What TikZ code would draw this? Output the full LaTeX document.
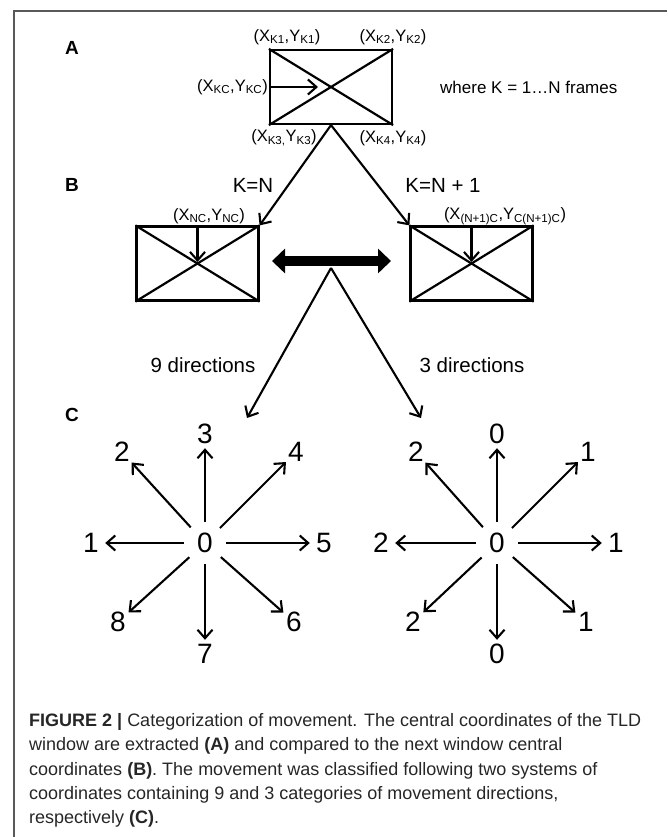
\documentclass[tikz,border=0pt]{standalone}
\usepackage{fontspec}
\setmainfont{Liberation Sans}
\usetikzlibrary{arrows.meta}
\begin{document}
\begin{tikzpicture}[x=1pt,y=-1pt,
  box/.style={draw, line width=2.2pt, minimum width=122pt, minimum height=74pt, inner sep=0pt},
  ln/.style={line width=2.2pt},
  arr/.style={line width=2.1pt, -{Straight Barb[length=8.5pt,width=15pt,line width=2.1pt]}},
  dbl/.style={line width=10pt, {Triangle[length=13pt,width=24pt]}-{Triangle[length=13pt,width=24pt]}},
  lab/.style={font=\fontsize{16.5}{19}\selectfont, inner sep=0pt},
  mid/.style={font=\fontsize{20.5}{24}\selectfont, inner sep=0pt},
  dirs/.style={font=\fontsize{20.5}{24}\selectfont, inner sep=0pt},
  panel/.style={font=\fontsize{19}{22}\selectfont\bfseries, inner sep=0pt},
  ctr/.style={circle, minimum size=42pt, inner sep=0pt, font=\fontsize{28}{32}\selectfont},
  num/.style={circle, minimum size=28pt, inner sep=0pt, font=\fontsize{28}{32}\selectfont},
  capline/.style={anchor=base west, inner sep=0pt, font=\fontsize{18}{24}\selectfont, text=black!85},
  frame/.style={draw=black!65, line width=1.2pt}
]
\useasboundingbox (0,0) rectangle (667,837);
% frame
\coordinate (fTL) at (14,11);
\coordinate (fTR) at (667,11);
\coordinate (fBL) at (14,837);
\draw[frame] (fTR) -- (fTL) -- (fBL);

% panel letters
\node[panel] (pA) at (72,48) {A};
\node[panel] (pB) at (72,185) {B};
\node[panel] (pC) at (72,415) {C};

% box A
\node[box] (boxA) at (331,87) {};
\draw[ln] (boxA.north west) -- (boxA.south east);
\draw[ln] (boxA.south west) -- (boxA.north east);
\node[lab] (k1) at (287,37) {(X\textsubscript{K1},Y\textsubscript{K1})};
\node[lab] (k2) at (393,37) {(X\textsubscript{K2},Y\textsubscript{K2})};
\node[lab] (k3) at (284,138) {(X\textsubscript{K3,}Y\textsubscript{K3})};
\node[lab] (k4) at (393,138) {(X\textsubscript{K4},Y\textsubscript{K4})};
\node[lab, anchor=east] (kc) at (268,87) {(X\textsubscript{KC},Y\textsubscript{KC})};
\coordinate (kcTip) at (318,87);
\draw[arr] (boxA.west) -- (kcTip);
\node[font=\fontsize{17}{20}\selectfont, anchor=west, inner sep=0pt] (where) at (440,87) {where K = 1…N frames};

% boxes B
\node[box] (boxBL) at (197.5,263.5) {};
\node[box] (boxBR) at (471.5,263.5) {};
\draw[ln] (boxBL.north west) -- (boxBL.south east);
\draw[ln] (boxBL.south west) -- (boxBL.north east);
\draw[ln] (boxBR.north west) -- (boxBR.south east);
\draw[ln] (boxBR.south west) -- (boxBR.north east);
\coordinate (blTip) at (197.5,262);
\coordinate (brTip) at (471.5,262);
\draw[arr] (boxBL.north) -- (blTip);
\draw[arr] (boxBR.north) -- (brTip);
\node[lab] (nc) at (209,216) {(X\textsubscript{NC},Y\textsubscript{NC})};
\node[lab] (n1c) at (505,216) {(X\textsubscript{(N+1)C},Y\textsubscript{C(N+1)C})};

% A -> B
\draw[arr] (boxA.south) -- (boxBL.north east);
\draw[arr] (boxA.south) -- (boxBR.north west);
\node[mid] (kn) at (253,185) {K=N};
\node[mid] (kn1) at (443,185) {K=N + 1};

% double arrow
\coordinate (dL) at (272,261);
\coordinate (dR) at (391,261);
\draw[dbl] (dL) -- (dR);
\coordinate (apex) at (331,268);
\coordinate (t9) at (247,418);
\coordinate (t3) at (421,418);
\draw[arr] (apex) -- (t9);
\draw[arr] (apex) -- (t3);
\node[dirs] (d9) at (203,365) {9 directions};
\node[dirs] (d3) at (472,365) {3 directions};

% left star
\begin{scope}[shift={(205,543)}]
\node[ctr] (L0) at (0,0) {0};
\node[num] (L3) at (0,-109) {3};
\node[num] (L7) at (0,111) {7};
\node[num] (L1) at (-114,0) {1};
\node[num] (L5) at (119,0) {5};
\node[num] (L2) at (-83,-91) {2};
\node[num] (L4) at (91,-91) {4};
\node[num] (L8) at (-87,79) {8};
\node[num] (L6) at (89,79) {6};
\foreach \n in {L3,L7,L1,L5,L2,L4,L8,L6} \draw[arr] (L0) -- (\n);
\end{scope}

% right star
\begin{scope}[shift={(497,543)}]
\node[ctr] (R0) at (0,0) {0};
\node[num] (Rt) at (0,-109) {0};
\node[num] (Rb) at (0,111) {0};
\node[num] (Rl) at (-116,0) {2};
\node[num] (Rr) at (119,0) {1};
\node[num] (Rul) at (-81,-91) {2};
\node[num] (Rur) at (91,-91) {1};
\node[num] (Rdl) at (-84,79) {2};
\node[num] (Rdr) at (89,79) {1};
\foreach \n in {Rt,Rb,Rl,Rr,Rul,Rur,Rdl,Rdr} \draw[arr] (R0) -- (\n);
\end{scope}

% caption
\node[capline] (c1) at (29,726) {\textbf{FIGURE 2 |} Categorization of movement. The central coordinates of the TLD};
\node[capline] (c2) at (29,750.5) {window are extracted \textbf{(A)} and compared to the next window central};
\node[capline] (c3) at (29,775) {coordinates \textbf{(B)}. The movement was classified following two systems of};
\node[capline] (c4) at (29,799) {coordinates containing 9 and 3 categories of movement directions,};
\node[capline] (c5) at (29,823) {respectively \textbf{(C)}.};
\end{tikzpicture}
\end{document}
